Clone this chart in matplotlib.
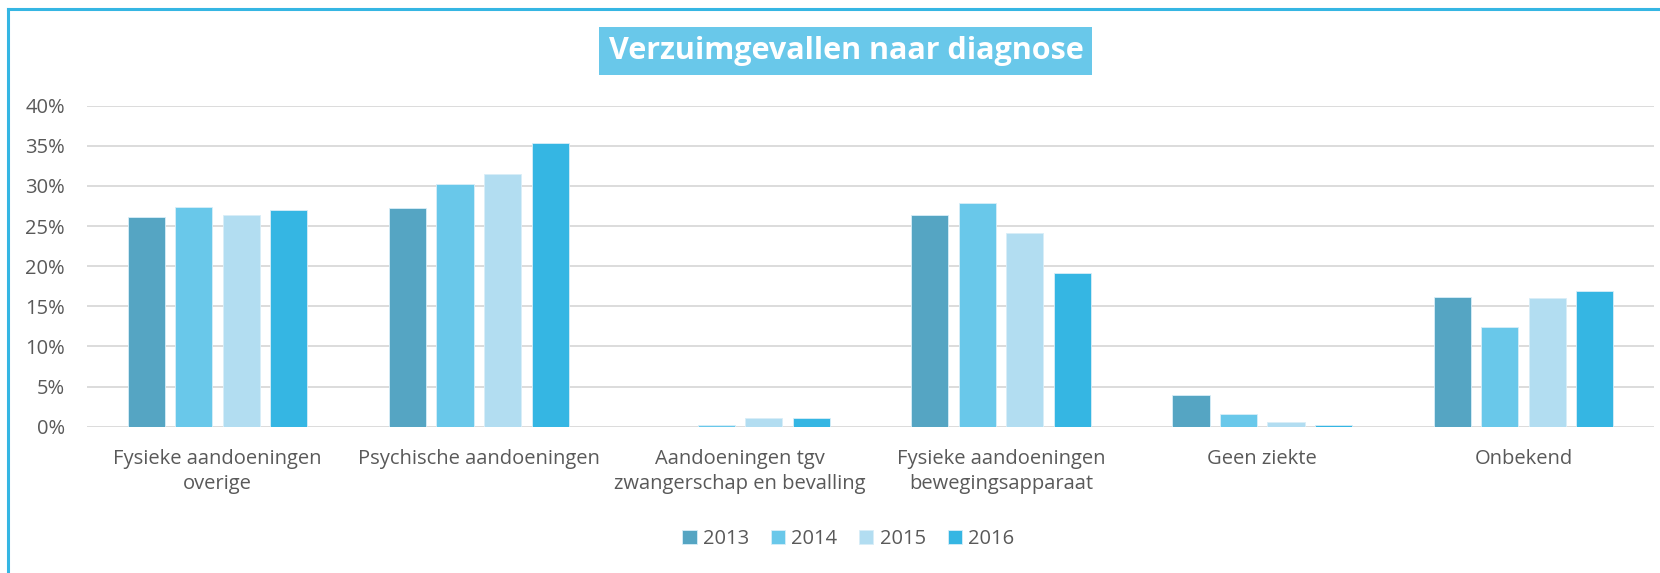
import numpy as np
import matplotlib.pyplot as plt
from matplotlib.lines import Line2D
from matplotlib.ticker import PercentFormatter

categories = ["Fysieke aandoeningen\noverige", "Psychische aandoeningen",
              "Aandoeningen tgv\nzwangerschap en bevalling",
              "Fysieke aandoeningen\nbewegingsapparaat", "Geen ziekte", "Onbekend"]
years = ["2013", "2014", "2015", "2016"]
v2013 = [26.1, 27.2, 0.0, 26.4, 4.0, 16.2]
v2014 = [27.4, 30.2, 0.2, 27.9, 1.6, 12.4]
v2015 = [26.4, 31.5, 1.1, 24.1, 0.55, 16.0]
v2016 = [27.0, 35.3, 1.1, 19.2, 0.2, 16.9]
colors = ["#55a5c3", "#69c8ea", "#b2ddf1", "#35b6e3"]

plt.rcParams['font.family'] = ['Open Sans', 'DejaVu Sans']
txt = '#595959'

fig = plt.figure(figsize=(16.6, 5.73), dpi=100)
ax = fig.add_axes([0.0524, 0.2553, 0.9440, 0.5602])

x = np.arange(len(categories))
series = [v2013, v2014, v2015, v2016]
step = 0.182
for i, (vals, c, lab) in enumerate(zip(series, colors, years)):
    ax.bar(x + (i - 1.5) * step, vals, width=0.142, color=c, label=lab,
           edgecolor='#d8eef8', linewidth=0.6, zorder=3)

ax.set_xlim(-0.5, len(categories) - 0.5)
ax.set_ylim(0, 40)
ax.set_yticks(np.arange(0, 41, 5))
ax.yaxis.set_major_formatter(PercentFormatter(decimals=0))
ax.grid(axis='y', color='#d9d9d9', linewidth=1.3, zorder=0)
for s in ax.spines.values():
    s.set_visible(False)
ax.tick_params(length=0, labelcolor=txt, labelsize=14.5)
ax.tick_params(axis='y', pad=16)
ax.tick_params(axis='x', pad=16)
ax.set_xticks(x)
ax.set_xticklabels(categories, linespacing=1.35)

leg = fig.legend(loc='center', bbox_to_anchor=(0.511, 0.06), ncol=4, frameon=False,
                 fontsize=14.5, handlelength=0.7, handleheight=0.7,
                 handletextpad=0.3, columnspacing=1.1)
for t in leg.get_texts():
    t.set_color(txt)

fig.text(0.5096, 1 - 51 / 573, "Verzuimgevallen naar diagnose", ha='center', va='center',
         fontsize=22, fontweight='bold', color='white',
         bbox=dict(boxstyle='square,pad=0.3', facecolor='#69c8ea', edgecolor='none'))

fig.add_artist(Line2D([8 / 1660, 8 / 1660], [0, 1 - 9 / 573], color='#35b6e3', linewidth=2.2))
fig.add_artist(Line2D([8 / 1660, 1], [1 - 9 / 573, 1 - 9 / 573], color='#35b6e3', linewidth=2.2))

fig.savefig('out.png', dpi=100, facecolor='white')
